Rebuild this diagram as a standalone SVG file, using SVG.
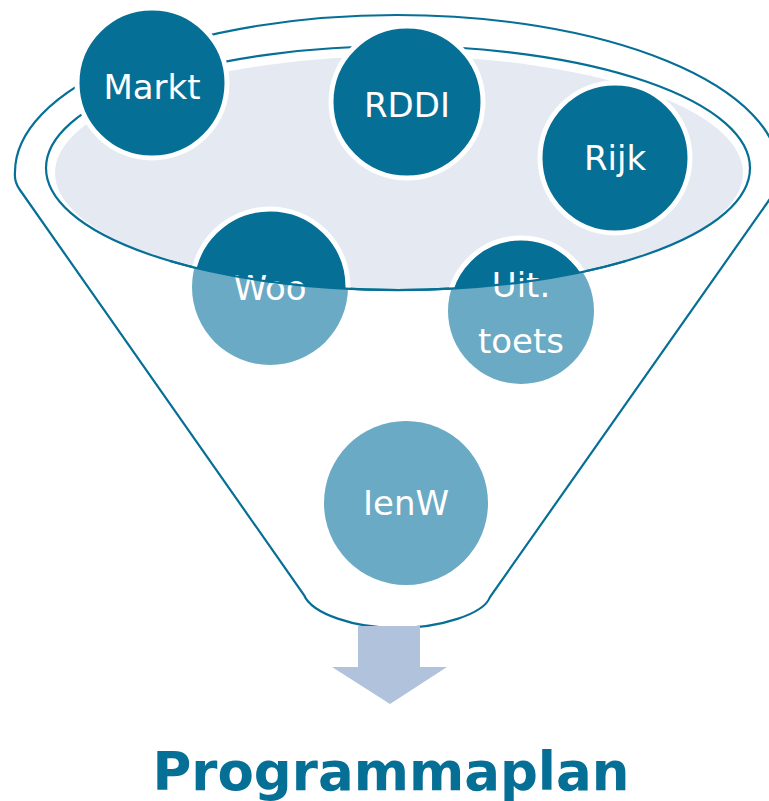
<svg xmlns="http://www.w3.org/2000/svg" width="769" height="801" viewBox="0 0 769 801">
<defs>
<style>
.line{fill:none;stroke:#066F96;stroke-width:2.2}
.dark{fill:#066F96;stroke:#fff;stroke-width:5}
.light{fill:#6AAAC4}
.lbl{font-family:"DejaVu Sans","Liberation Sans",sans-serif;font-size:34px;fill:#fff;text-anchor:middle}
.title{font-family:"DejaVu Sans","Liberation Sans",sans-serif;font-size:53px;font-weight:bold;fill:#066F96;text-anchor:middle}
</style>
<clipPath id="bowl"><ellipse cx="398" cy="168" rx="352" ry="122"/></clipPath>
</defs>
<rect width="769" height="801" fill="#fff"/>
<g id="funnel">
<path class="line" fill="#fff" d="M15,172 A382,157 0 0 1 779,172 Q780,186 772,196 L490,597 C484,614 440,628 397,628 C355,628 312,614 304,595 L20,190 Q14,182 15,172 Z"/>
<ellipse cx="399" cy="173" rx="344" ry="117" fill="#E4E9F2"/>
<ellipse class="line" cx="398" cy="168" rx="352" ry="122"/>
</g>
<g id="arrow">
<polygon points="358,626 420,626 420,667 447,667 390,704 332,667 358,667" fill="#B1C2DC"/>
</g>
<g id="markt"><circle class="dark" cx="152" cy="83" r="75"/><text class="lbl" x="152" y="99">Markt</text></g>
<g id="rddi"><circle class="dark" cx="407" cy="102" r="76"/><text class="lbl" x="407" y="117">RDDI</text></g>
<g id="rijk"><circle class="dark" cx="615" cy="158" r="75"/><text class="lbl" x="615" y="170">Rijk</text></g>
<g id="woo">
<circle class="light" cx="270" cy="287" r="78"/>
<circle class="dark" cx="270" cy="287" r="78" clip-path="url(#bowl)"/>
<text class="lbl" x="270" y="300">Woo</text>
</g>
<g id="uittoets">
<circle class="light" cx="521" cy="311" r="73"/>
<circle class="dark" cx="521" cy="311" r="73" clip-path="url(#bowl)"/>
<text class="lbl" x="521" y="297">Uit.</text>
<text class="lbl" x="521" y="353">toets</text>
</g>
<g id="connectors">
<path class="line" d="M170,261 A352,122 0 0 0 626,261"/>
</g>
<g id="ienw"><circle class="light" cx="406" cy="503" r="82"/><text class="lbl" x="406" y="515">IenW</text></g>
<g id="title"><text class="title" x="391" y="790">Programmaplan</text></g>
</svg>
